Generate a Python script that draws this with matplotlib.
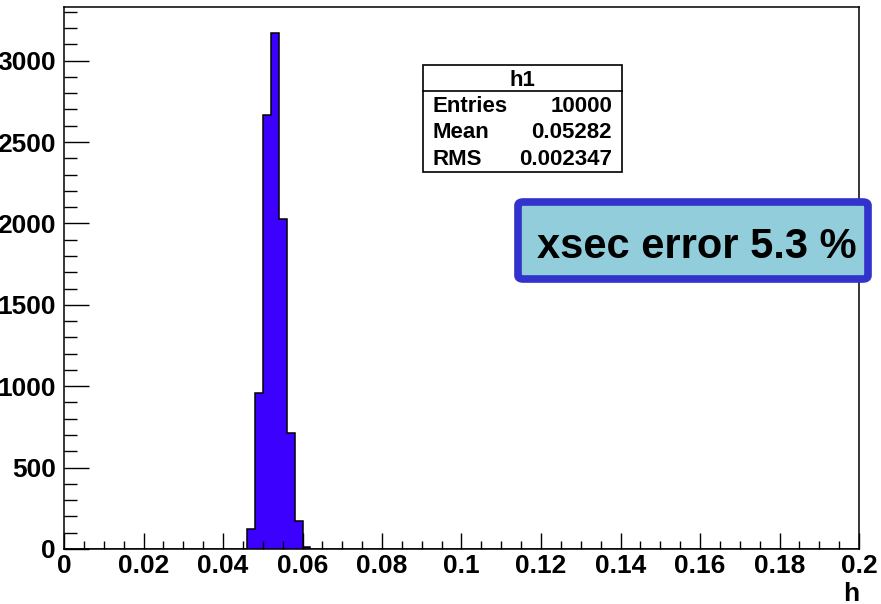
import numpy as np
import matplotlib
matplotlib.use('Agg')
import matplotlib.pyplot as plt
from matplotlib.patches import Rectangle, FancyBboxPatch
from matplotlib.ticker import MultipleLocator, FuncFormatter

# histogram h1: 100 bins on [0, 0.2], only a few are filled
n_bins = 100
x_lo, x_hi = 0.0, 0.2
filled_first_edge = 0.046
filled_counts = [121, 959, 2666, 3171, 2026, 711, 170, 15]

stats_title = 'h1'
stats_names = ['Entries', 'Mean', 'RMS']
stats_values = ['10000', '0.05282', '0.002347']
note = 'xsec error 5.3 %'

edges = np.linspace(x_lo, x_hi, n_bins + 1)
counts = np.zeros(n_bins)
i0 = int(round((filled_first_edge - x_lo) / (edges[1] - edges[0])))
counts[i0:i0 + len(filled_counts)] = filled_counts

plt.rcParams['font.family'] = ['Liberation Sans', 'DejaVu Sans']
plt.rcParams['font.weight'] = 'bold'

W, H = 881, 604
fig = plt.figure(figsize=(W / 100, H / 100), dpi=100)
ax = fig.add_axes([64 / W, 1 - 549 / H, (859 - 64) / W, (549 - 7) / H])

ax.stairs(counts, edges, fill=True, facecolor='#3c00ff', edgecolor='none')
ax.stairs(counts, edges, color='black', linewidth=1.1)

ax.set_xlim(x_lo, x_hi)
ax.set_ylim(0, 1.05 * max(filled_counts))

ax.xaxis.set_major_locator(MultipleLocator(0.02))
ax.xaxis.set_minor_locator(MultipleLocator(0.005))
ax.yaxis.set_major_locator(MultipleLocator(500))
ax.yaxis.set_minor_locator(MultipleLocator(100))
ax.xaxis.set_major_formatter(FuncFormatter(lambda v, p: ('%g' % round(v, 3))))
ax.yaxis.set_major_formatter(FuncFormatter(lambda v, p: '%d' % v))

ax.tick_params(axis='both', which='both', direction='in', top=False, right=False,
               width=1, labelsize=19)
ax.tick_params(axis='y', which='major', length=18, pad=6)
ax.tick_params(axis='y', which='minor', length=9.5)
ax.tick_params(axis='x', which='major', length=11.5, pad=3.5)
ax.tick_params(axis='x', which='minor', length=6)
for lab in ax.get_xticklabels() + ax.get_yticklabels():
    lab.set_fontweight('bold')
for s in ax.spines.values():
    s.set_linewidth(1.1)

fig.text(851 / W, 1 - 594 / H, 'h', ha='center', va='center', fontsize=19,
         fontweight='bold')

# stats box
def fx(x):
    return x / W

def fy(y):
    return 1 - y / H

fig.add_artist(Rectangle((fx(423), fy(172)), fx(622) - fx(423), fy(65) - fy(172),
                         transform=fig.transFigure, facecolor='white',
                         edgecolor='black', linewidth=1.2))
fig.add_artist(plt.Line2D([fx(423), fx(622)], [fy(91), fy(91)],
                          transform=fig.transFigure, color='black', linewidth=1.2))
fig.text(fx(522), fy(80), stats_title, ha='center', va='center', fontsize=16,
         fontweight='bold')
for k, (nm, val) in enumerate(zip(stats_names, stats_values)):
    yy = fy(107 + 26 * k)
    fig.text(fx(432), yy, nm, ha='left', va='center', fontsize=16, fontweight='bold')
    fig.text(fx(612), yy, val, ha='right', va='center', fontsize=16, fontweight='bold')

# note box
fig.add_artist(FancyBboxPatch((fx(518), fy(279)), fx(868) - fx(518), fy(202) - fy(279),
                              boxstyle='round,pad=0,rounding_size=0.006',
                              transform=fig.transFigure, facecolor='#92cddc',
                              edgecolor='#3232cc', linewidth=5.5))
fig.text(fx(697), fy(247), note, ha='center', va='center', fontsize=30,
         fontweight='bold', color='black')

fig.savefig('out.png', dpi=100)
